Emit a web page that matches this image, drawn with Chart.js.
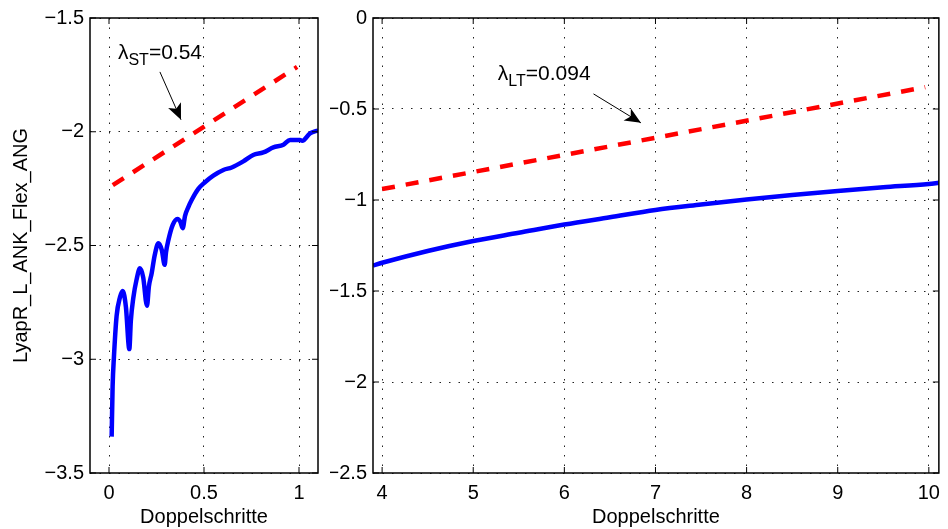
<!DOCTYPE html>
<html>
<head>
<meta charset="utf-8">
<script src="https://cdn.jsdelivr.net/npm/chart.js@4.4.0/dist/chart.umd.min.js"></script>
<style>
body { margin: 0; background: #fff; }
canvas { position: absolute; top: 0; }
#left { left: 0; }
#right { left: 330px; }
</style>
</head>
<body>
<canvas id="left" width="330" height="529"></canvas>
<canvas id="right" width="618" height="529"></canvas>
<script>
// short-term panel
const shortX = [0.014, 0.019, 0.026, 0.04, 0.058, 0.072, 0.089, 0.107, 0.115, 0.128, 0.145, 0.163, 0.18, 0.2,
    0.21, 0.225, 0.24, 0.26, 0.278, 0.293, 0.3, 0.312, 0.335, 0.36, 0.375, 0.388, 0.4, 0.417, 0.435, 0.47,
    0.505, 0.549, 0.602, 0.646, 0.707, 0.759, 0.812, 0.865, 0.918, 0.953, 1.005, 1.017, 1.058, 1.093, 1.1];
const shortY = [-3.34, -3.12, -2.99, -2.81, -2.727, -2.70, -2.77, -2.955, -2.83, -2.73, -2.65, -2.60, -2.64, -2.765,
    -2.68, -2.62, -2.545, -2.49, -2.52, -2.585, -2.53, -2.478, -2.41, -2.383, -2.395, -2.424, -2.37, -2.332, -2.30, -2.251,
    -2.222, -2.193, -2.168, -2.157, -2.13, -2.102, -2.091, -2.069, -2.057, -2.036, -2.036, -2.04, -2.007, -1.996, -1.995];
const shortFitX = [0.02, 0.99];
const shortFitY = [-2.235, -1.715];

// long-term panel
const longX = [3.9, 4.0, 4.5, 5.0, 5.5, 6.0, 6.5, 7.0, 7.5, 8.0, 8.5, 9.0, 9.5, 10.0, 10.11];
const longY = [-1.36, -1.345, -1.28, -1.225, -1.18, -1.135, -1.095, -1.055, -1.025, -0.997, -0.972, -0.95, -0.93, -0.912, -0.905];
const longFitX = [4.0, 9.96];
const longFitY = [-0.94, -0.38];

const xTicksLeft = [0, 0.5, 1];
const xTicksRight = [4, 5, 6, 7, 8, 9, 10];

const FONT = "'Liberation Sans', Arial, Helvetica, sans-serif";
Chart.defaults.font.family = FONT;
Chart.defaults.font.size = 20;
Chart.defaults.color = '#000';

function pts(xs, ys) {
    return xs.map((x, i) => ({x: x, y: ys[i]}));
}

function arrow(ctx, x1, y1, x2, y2) {
    ctx.strokeStyle = '#000';
    ctx.lineWidth = 1;
    ctx.beginPath();
    ctx.moveTo(x1, y1);
    ctx.lineTo(x2, y2);
    ctx.stroke();
    const a = Math.atan2(y2 - y1, x2 - x1);
    const dx = Math.cos(a), dy = Math.sin(a);
    const L = 16, W = 7;
    const bx = x2 - L * dx, by = y2 - L * dy;
    ctx.fillStyle = '#000';
    ctx.beginPath();
    ctx.moveTo(x2, y2);
    ctx.lineTo(bx - W * dy, by + W * dx);
    ctx.lineTo(x2 - 0.75 * L * dx, y2 - 0.75 * L * dy);
    ctx.lineTo(bx + W * dy, by - W * dx);
    ctx.closePath();
    ctx.fill();
}

//Box, inner tick marks and the lambda annotation
const framePlugin = {
    id: 'frame',
    afterDraw(chart, args, opts) {
        const ctx = chart.ctx;
        const a = chart.chartArea;
        const xs = chart.scales.x, ys = chart.scales.y;
        ctx.save();
        ctx.strokeStyle = '#000';
        ctx.lineWidth = 1.5;
        ctx.strokeRect(a.left, a.top, a.right - a.left, a.bottom - a.top);
        ctx.lineWidth = 1;
        ctx.beginPath();
        xs.ticks.forEach(t => {
            const px = xs.getPixelForValue(t.value);
            ctx.moveTo(px, a.bottom); ctx.lineTo(px, a.bottom - 6);
            ctx.moveTo(px, a.top); ctx.lineTo(px, a.top + 6);
        });
        ys.ticks.forEach(t => {
            const py = ys.getPixelForValue(t.value);
            ctx.moveTo(a.left, py); ctx.lineTo(a.left + 6, py);
            ctx.moveTo(a.right, py); ctx.lineTo(a.right - 6, py);
        });
        ctx.stroke();

        const n = opts.note;
        let tx = xs.getPixelForValue(n.x), ty = ys.getPixelForValue(n.y);
        ctx.fillStyle = '#000';
        ctx.textBaseline = 'alphabetic';
        ctx.textAlign = 'left';
        ctx.font = '21px ' + FONT;
        ctx.fillText('\u03bb', tx, ty);
        tx += ctx.measureText('\u03bb').width;
        ctx.font = '16px ' + FONT;
        ctx.fillText(n.sub, tx, ty + 6);
        tx += ctx.measureText(n.sub).width;
        ctx.font = '21px ' + FONT;
        ctx.fillText(n.text, tx, ty);
        arrow(ctx, xs.getPixelForValue(n.ax1), ys.getPixelForValue(n.ay1),
            xs.getPixelForValue(n.ax2), ys.getPixelForValue(n.ay2));
        ctx.restore();
    }
};

function makeChart(id, cfg) {
    const gridStyle = {
        color: '#222',
        lineWidth: 1,
        drawTicks: false
    };
    //in v4 the grid line dash lives under border
    const borderStyle = {display: false, dash: [1.5, 8]};
    return new Chart(document.getElementById(id).getContext('2d'), {
        type: 'line',
        data: {
            datasets: [
                {
                    data: pts(cfg.fitX, cfg.fitY),
                    borderColor: '#ff0000',
                    borderWidth: 4.5,
                    borderDash: [13, 11],
                    pointRadius: 0,
                    fill: false
                },
                {
                    data: pts(cfg.lineX, cfg.lineY),
                    borderColor: '#0000ff',
                    borderWidth: 4.5,
                    pointRadius: 0,
                    cubicInterpolationMode: 'monotone',
                    fill: false
                }
            ]
        },
        options: {
            responsive: false,
            animation: false,
            devicePixelRatio: 1,
            layout: {padding: {top: 17, right: cfg.padRight, bottom: 0, left: 0}},
            plugins: {
                legend: {display: false},
                tooltip: {enabled: false},
                frame: {note: cfg.note}
            },
            scales: {
                x: {
                    type: 'linear',
                    min: cfg.xMin,
                    max: cfg.xMax,
                    afterBuildTicks: s => { s.ticks = cfg.xTicks.map(v => ({value: v})); },
                    afterFit: s => { s.height = 56; },
                    grid: gridStyle,
                    border: borderStyle,
                    ticks: {padding: 8, maxRotation: 0,
                        callback: v => String(v).replace('-', '\u2212')},
                    title: {display: true, text: 'Doppelschritte', padding: {top: 0, bottom: 0}}
                },
                y: {
                    min: cfg.yMin,
                    max: cfg.yMax,
                    ticks: {stepSize: 0.5, padding: 6,
                        callback: v => String(v).replace('-', '\u2212')},
                    afterFit: s => { s.width = cfg.yWidth; },
                    grid: gridStyle,
                    border: borderStyle,
                    title: {display: cfg.yTitle !== '', text: cfg.yTitle, padding: {top: 9, bottom: 0}}
                }
            }
        },
        plugins: [framePlugin]
    });
}

makeChart('left', {
    lineX: shortX, lineY: shortY, fitX: shortFitX, fitY: shortFitY,
    xMin: -0.1, xMax: 1.1, xTicks: xTicksLeft,
    yMin: -3.5, yMax: -1.5,
    yWidth: 90, padRight: 12,
    yTitle: 'LyapR_L_ANK_Flex_ANG',
    note: {sub: 'ST', text: '=0.54', x: 0.047, y: -1.68, ax1: 0.268, ay1: -1.737, ax2: 0.379, ay2: -1.947}
});

makeChart('right', {
    lineX: longX, lineY: longY, fitX: longFitX, fitY: longFitY,
    xMin: 3.9, xMax: 10.11, xTicks: xTicksRight,
    yMin: -2.5, yMax: 0,
    yWidth: 43, padRight: 2,
    yTitle: '',
    note: {sub: 'LT', text: '=0.094', x: 5.27, y: -0.34, ax1: 6.32, ay1: -0.417, ax2: 6.84, ay2: -0.576}
});
</script>
</body>
</html>
